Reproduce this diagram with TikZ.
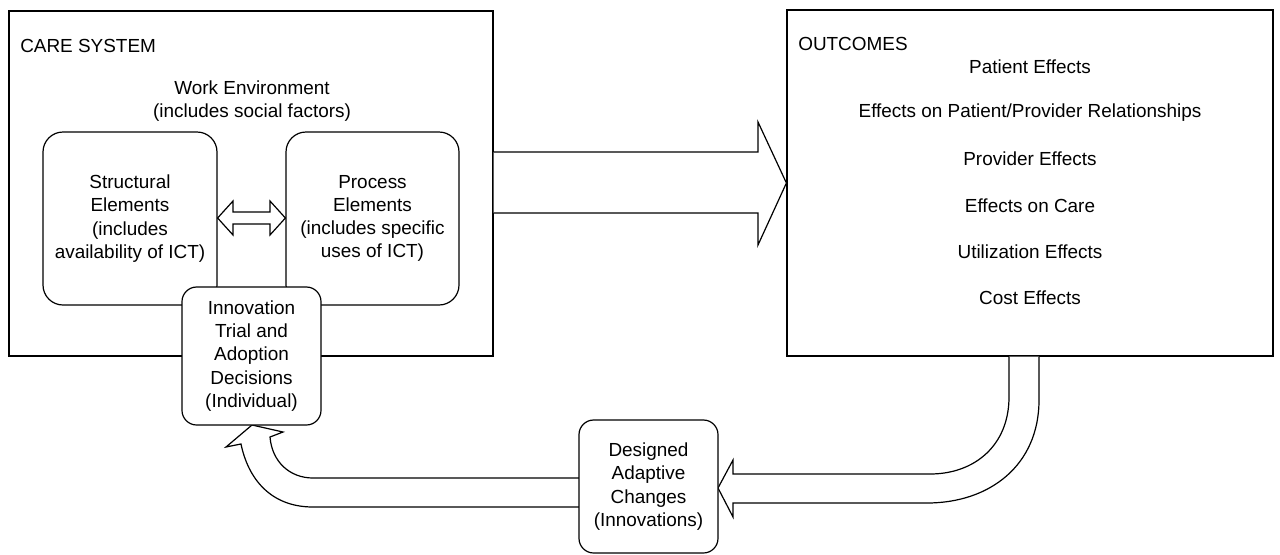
\documentclass[tikz,border=0pt]{standalone}
\usepackage{fontspec}
\setmainfont{Liberation Sans}
\begin{document}
\begin{tikzpicture}[x=0.75pt,y=-0.75pt,
  every node/.style={font=\fontsize{14.2}{17.4}\selectfont, inner sep=0pt, align=center},
  frame/.style={draw, line width=0.9pt, fill=white},
  roundbox/.style={frame, rounded corners=15pt},
  smallbox/.style={frame, rounded corners=11pt, minimum width=104.25pt},
  blockarrow/.style={draw, line width=0.9pt, fill=white, line join=miter},
  lbl/.style={anchor=center}]
\useasboundingbox (0,0) rectangle (1280,554);

% care system frame with its inner elements
\node[frame, minimum width=363pt, minimum height=258.75pt] (care) at (251,183.5) {};
\node[anchor=west] (caretitle) at (20,46) {CARE SYSTEM};
\node (workenv) at (252,101) {Work Environment\\(includes social factors)};
\node[roundbox, minimum width=130.5pt, minimum height=129.75pt] (struct) at (130,218.5)
  {Structural\\Elements\\(includes\\availability of ICT)};
\node[roundbox, minimum width=129.75pt, minimum height=129.75pt] (process) at (372.5,218.5)
  {Process\\Elements\\(includes specific\\uses of ICT)};

% two-way exchange between structure and process
\draw[blockarrow] (struct.east |- 0,218) -- (233,201) -- (233,212) -- (270,212) -- (270,201)
  -- (process.west |- 0,218) -- (270,235) -- (270,224) -- (233,224) -- (233,235) -- cycle;

% outcomes frame
\node[frame, minimum width=364.5pt, minimum height=259.5pt] (outc) at (1030,183) {};
\node[anchor=west] (outtitle) at (798,44) {OUTCOMES};
\node (o1) at (1030,67) {Patient Effects};
\node (o2) at (1030,113) {Effects on Patient/Provider Relationships};
\node (o3) at (1030,159) {Provider Effects};
\node (o4) at (1030,206) {Effects on Care};
\node (o5) at (1030,252) {Utilization Effects};
\node (o6) at (1030,298) {Cost Effects};

% main flow from care system to outcomes
\draw[blockarrow] (care.east |- 0,152) -- (758,152) -- (758,122) -- (outc.west |- 0,183)
  -- (758,245) -- (758,213) -- (care.east |- 0,213);

% feedback from outcomes to designed changes
\draw[blockarrow] (1009,356.5) -- (1009,397) .. controls (1009,445) and (975,474) .. (930,474)
  -- (733,474) -- (733,460) -- (718,488) -- (733,517) -- (733,503) -- (927,503)
  .. controls (990,503) and (1039,465) .. (1039,400) -- (1039,356.5);

% feedback from designed changes to adoption decisions
\draw[blockarrow] (579,478) -- (313,478) .. controls (290,478) and (272,462) .. (270,437)
  -- (283,432) -- (252,425) -- (226,447) -- (241,444)
  .. controls (248,478) and (270,507) .. (313,507) -- (579,507);

% decision and change boxes
\node[smallbox, minimum height=103.5pt] (innov) at (251.5,356)
  {Innovation\\Trial and\\Adoption\\Decisions\\(Individual)};
\node[smallbox, minimum height=99.75pt] (design) at (648.5,486.5)
  {Designed\\Adaptive\\Changes\\(Innovations)};
\end{tikzpicture}
\end{document}
